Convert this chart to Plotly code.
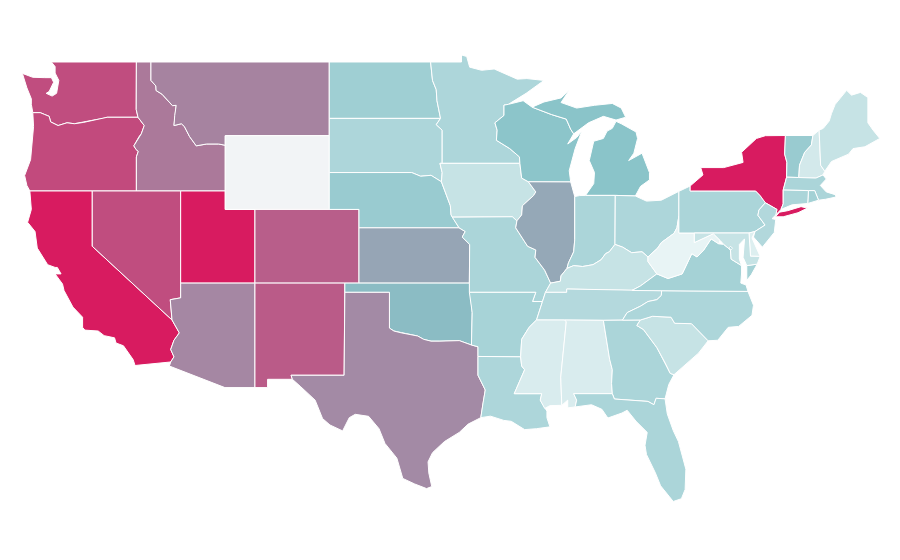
import plotly.graph_objects as go
from plotly.colors import sample_colorscale

# no topojson offline, so the state outlines are kept here as rough lon/lat rings
states = ["WA","OR","CA","ID","NV","UT","AZ","MT","WY","CO","NM","ND","SD","NE","KS","OK","TX",
          "MN","IA","MO","AR","LA","WI","IL","MI","IN","OH","KY","TN","MS","AL","GA","FL","SC","NC",
          "VA","WV","PA","NY","VT","NH","ME","MA","RI","CT","NJ","DE","MD","DC"]
values = [85,86,100,72,85,100,68,69,0,80,81,39,32,42,59,52,67,
          32,20,33,35,32,48,58,49,33,32,20,29,11,11,33,33,20,32,
          36,4,33,100,42,14,20,33,37,33,30,9,20,33]

colorscale = [[0, "#f2f4f6"], [0.01, "#eef7f8"], [0.5, "#88c3c8"], [1, "#d81b60"]]

outlines = {
"WA": [[(-122.75,49),(-117.03,49),(-117.04,46.42),(-116.92,46),(-119,46),(-119.3,45.93),(-119.9,45.85),(-120.6,45.72),(-121.2,45.65),(-121.7,45.7),(-122.3,45.55),(-122.8,45.75),(-122.9,46.05),(-123.2,46.15),(-123.5,46.25),(-124,46.25),(-124.1,46.7),(-124.1,47),(-124.4,47.6),(-124.7,48.38),(-124,48.17),(-123.2,48.15),(-122.75,48.15),(-122.6,47.9),(-122.9,47.4),(-123.1,47.3),(-122.7,47.15),(-122.4,47.3),(-122.35,47.6),(-122.25,48),(-122.5,48.4),(-122.5,48.75)]],
"OR": [[(-124,46.25),(-123.5,46.25),(-123.2,46.15),(-122.9,46.05),(-122.8,45.75),(-122.3,45.55),(-121.7,45.7),(-121.2,45.65),(-120.6,45.72),(-119.9,45.85),(-119.3,45.93),(-119,46),(-116.92,46),(-116.78,45.85),(-116.5,45.55),(-116.7,45.1),(-116.85,44.95),(-117.2,44.45),(-117.05,44.25),(-116.9,44.15),(-117.03,43.85),(-117.03,42),(-124.2,42),(-124.4,42.3),(-124.55,42.84),(-124.15,43.7),(-124.05,44.7),(-123.95,45.5)]],
"ID": [[(-117.03,49),(-116.05,49),(-116.05,48),(-115.72,47.7),(-115.7,47.45),(-115.3,47.25),(-114.95,46.93),(-114.6,46.63),(-114.35,46.65),(-114.45,46.1),(-114.5,45.55),(-114,45.65),(-113.8,45.5),(-113.45,44.95),(-113,44.45),(-112.3,44.55),(-111.5,44.55),(-111.05,44.48),(-111.05,42),(-117.03,42),(-117.03,43.85),(-116.9,44.15),(-117.05,44.25),(-117.2,44.45),(-116.85,44.95),(-116.7,45.1),(-116.5,45.55),(-116.78,45.85),(-116.92,46),(-117.04,46.42)]],
"MT": [[(-116.05,49),(-104.05,49),(-104.05,45),(-111.05,45),(-111.05,44.48),(-111.5,44.55),(-112.3,44.55),(-113,44.45),(-113.45,44.95),(-113.8,45.5),(-114,45.65),(-114.5,45.55),(-114.45,46.1),(-114.35,46.65),(-114.6,46.63),(-114.95,46.93),(-115.3,47.25),(-115.7,47.45),(-115.72,47.7),(-116.05,48)]],
"WY": [[(-111.05,45),(-104.05,45),(-104.05,41),(-111.05,41)]],
"ND": [[(-104.05,49),(-97.23,49),(-97.1,48),(-96.85,47.5),(-96.8,46.9),(-96.56,45.94),(-104.05,45.94)]],
"SD": [[(-104.05,45.94),(-96.56,45.94),(-96.85,45.6),(-96.45,45.3),(-96.45,43.5),(-96.6,43.5),(-96.45,43),(-96.5,42.5),(-97.2,42.85),(-97.9,42.8),(-98.5,43),(-104.05,43)]],
"NE": [[(-104.05,43),(-98.5,43),(-97.9,42.8),(-97.2,42.85),(-96.5,42.5),(-96.25,42),(-96.1,41.6),(-95.9,41.2),(-95.85,40.7),(-95.31,40),(-102.05,40),(-102.05,41),(-104.05,41)]],
"CO": [[(-109.05,41),(-102.05,41),(-102.05,37),(-109.05,37)]],
"KS": [[(-102.05,40),(-95.31,40),(-94.9,39.8),(-95.1,39.5),(-94.6,39.1),(-94.62,37),(-102.05,37)]],
"UT": [[(-114.05,42),(-111.05,42),(-111.05,41),(-109.05,41),(-109.05,37),(-114.05,37)]],
"NV": [[(-120,42),(-114.05,42),(-114.05,36.2),(-114.75,36.1),(-114.63,35),(-120,39)]],
"CA": [[(-124.2,42),(-120,42),(-120,39),(-114.63,35),(-114.14,34.3),(-114.5,33.9),(-114.72,33.4),(-114.5,33),(-114.72,32.72),(-117.12,32.53),(-117.25,32.85),(-117.9,33.6),(-118.4,33.75),(-118.5,34.03),(-119.2,34.15),(-119.6,34.4),(-120.5,34.45),(-120.65,34.6),(-120.65,35.15),(-121.3,35.7),(-121.9,36.6),(-122,36.95),(-122.5,37.5),(-122.1,37.5),(-122.35,37.85),(-122.5,37.85),(-123,38),(-123.7,38.9),(-123.85,39.8),(-124.35,40.3),(-124.1,41)]],
"AZ": [[(-114.05,37),(-109.05,37),(-109.05,31.33),(-111.07,31.33),(-114.81,32.5),(-114.72,32.72),(-114.5,33),(-114.72,33.4),(-114.5,33.9),(-114.14,34.3),(-114.63,35),(-114.75,36.1),(-114.05,36.2)]],
"NM": [[(-109.05,37),(-103,37),(-103.05,32),(-106.62,32),(-106.53,31.78),(-108.2,31.78),(-108.2,31.33),(-109.05,31.33)]],
"OK": [[(-103,37),(-94.62,37),(-94.43,35.4),(-94.48,33.64),(-95.3,33.88),(-96,33.85),(-96.6,33.85),(-97.2,33.85),(-97.7,33.95),(-98.1,34.13),(-99.2,34.3),(-99.7,34.4),(-100,34.56),(-100,36.5),(-103,36.5)]],
"TX": [[(-103,36.5),(-100,36.5),(-100,34.56),(-99.7,34.4),(-99.2,34.3),(-98.1,34.13),(-97.7,33.95),(-97.2,33.85),(-96.6,33.85),(-96,33.85),(-95.3,33.88),(-94.48,33.64),(-94.04,33.55),(-94.04,33.02),(-94.04,32),(-93.55,31.2),(-93.7,30.5),(-93.85,29.7),(-94.7,29.35),(-95.3,28.9),(-96.3,28.4),(-97.1,27.8),(-97.4,27.3),(-97.35,26.7),(-97.15,25.96),(-97.5,25.85),(-98.3,26.1),(-99.1,26.4),(-99.5,27.5),(-100.3,28.3),(-100.7,29.1),(-101.4,29.77),(-102.3,29.88),(-102.7,29.7),(-103.15,28.98),(-104,29.3),(-104.5,29.65),(-105,30.65),(-106,31.4),(-106.53,31.78),(-106.62,32),(-103.05,32)]],
"MN": [[(-97.23,49),(-95.15,49),(-95.15,49.38),(-94.8,49.3),(-94.6,48.72),(-93.8,48.55),(-92.95,48.62),(-92,48.3),(-91.4,48.07),(-90.75,48.1),(-89.6,48),(-90.8,47.3),(-92,46.7),(-92.29,46.66),(-92.29,46.1),(-92.9,45.7),(-92.75,45.3),(-92.8,44.75),(-91.9,44.3),(-91.25,43.85),(-91.22,43.5),(-96.45,43.5),(-96.45,45.3),(-96.85,45.6),(-96.56,45.94),(-96.8,46.9),(-96.85,47.5),(-97.1,48)]],
"IA": [[(-96.6,43.5),(-91.22,43.5),(-91.1,42.7),(-90.65,42.5),(-90.15,41.95),(-90.3,41.75),(-91.05,41.2),(-91.1,40.7),(-91.42,40.38),(-91.73,40.6),(-95.77,40.58),(-95.85,40.7),(-95.9,41.2),(-96.1,41.6),(-96.25,42),(-96.5,42.5),(-96.45,43)]],
"MO": [[(-95.77,40.58),(-91.73,40.6),(-91.42,40.38),(-91.5,40),(-90.7,39),(-90.15,38.8),(-90.2,38.4),(-89.55,37.7),(-89.15,37),(-89.5,36.5),(-89.7,36),(-90.37,36),(-90.15,36.5),(-94.62,36.5),(-94.62,37),(-94.6,39.1),(-95.1,39.5),(-94.9,39.8),(-95.31,40)]],
"AR": [[(-94.62,36.5),(-90.15,36.5),(-90.37,36),(-89.7,36),(-90.1,35),(-90.6,34.6),(-91.1,33.95),(-91.17,33),(-94.04,33.02),(-94.04,33.55),(-94.48,33.64),(-94.43,35.4)]],
"LA": [[(-94.04,33.02),(-91.17,33),(-91.1,32.5),(-90.9,32.3),(-91.6,31),(-89.75,31),(-89.85,30.65),(-89.55,30.2),(-89.4,30.05),(-89.4,29.7),(-89.2,29.2),(-90.1,29.1),(-90.9,29.05),(-91.8,29.5),(-92.3,29.55),(-93.2,29.78),(-93.85,29.7),(-93.7,30.5),(-93.55,31.2),(-94.04,32)]],
"WI": [[(-92.29,46.66),(-92,46.7),(-91,46.9),(-90.4,46.55),(-89.1,46.15),(-88.1,45.9),(-87.8,45.35),(-87.6,45.1),(-88,44.55),(-87.4,44.9),(-87.05,45.25),(-87.5,44.3),(-87.9,43.1),(-87.8,42.49),(-90.65,42.5),(-91.1,42.7),(-91.22,43.5),(-91.25,43.85),(-91.9,44.3),(-92.8,44.75),(-92.75,45.3),(-92.9,45.7),(-92.29,46.1)]],
"IL": [[(-90.65,42.5),(-87.8,42.49),(-87.53,41.7),(-87.53,39.35),(-87.6,38.7),(-87.95,38.1),(-88.05,37.8),(-88.45,37.4),(-88.5,37.1),(-89.15,37),(-89.55,37.7),(-90.2,38.4),(-90.15,38.8),(-90.7,39),(-91.5,40),(-91.42,40.38),(-91.1,40.7),(-91.05,41.2),(-90.3,41.75),(-90.15,41.95)]],
"MI": [[(-90.4,46.55),(-89.6,46.83),(-88.45,47.05),(-87.9,47.47),(-88.45,46.8),(-87.4,46.5),(-86.2,46.65),(-85,46.75),(-84.4,46.5),(-84.1,46),(-84.75,45.85),(-85.6,46.05),(-86.6,45.7),(-87.6,45.1),(-87.8,45.35),(-88.1,45.9),(-89.1,46.15)],
       [(-84.75,45.78),(-84.4,45.65),(-83.4,45.2),(-83.3,44.85),(-83.55,44.05),(-83.9,43.65),(-83,44.05),(-82.5,43),(-82.5,42.6),(-83.1,42.25),(-83.45,41.73),(-84.8,41.76),(-86.8,41.76),(-86.25,42.4),(-86.2,43),(-86.55,43.65),(-86.25,44.7),(-85.6,44.85),(-85.35,45.25),(-85,45.4)]],
"IN": [[(-87.53,41.7),(-87.2,41.75),(-86.8,41.76),(-84.8,41.76),(-84.82,39.1),(-85.2,38.7),(-85.45,38.6),(-85.75,38.27),(-86.3,38),(-87,37.9),(-87.6,37.95),(-88.05,37.8),(-87.95,38.1),(-87.6,38.7),(-87.53,39.35)]],
"OH": [[(-84.8,41.76),(-83.45,41.73),(-82.7,41.45),(-81.7,41.5),(-80.52,41.98),(-80.52,40.64),(-80.65,40),(-80.85,39.7),(-81.7,39.2),(-81.95,38.9),(-82.6,38.42),(-83,38.7),(-83.7,38.65),(-84.3,38.95),(-84.82,39.1)]],
"KY": [[(-89.15,37),(-89.5,36.5),(-88.07,36.5),(-88.07,36.68),(-83.68,36.6),(-83.1,36.85),(-82,37.5),(-82.6,38.17),(-82.6,38.42),(-83,38.7),(-83.7,38.65),(-84.3,38.95),(-84.82,39.1),(-85.2,38.7),(-85.45,38.6),(-85.75,38.27),(-86.3,38),(-87,37.9),(-87.6,37.95),(-88.05,37.8),(-88.45,37.4),(-88.5,37.1)]],
"TN": [[(-89.5,36.5),(-88.07,36.5),(-88.07,36.68),(-83.68,36.6),(-81.68,36.59),(-81.7,36.33),(-82,36.1),(-82.6,36),(-83.1,35.75),(-84,35.4),(-84.32,34.99),(-85.6,34.98),(-88.2,35),(-90.1,35),(-89.7,36)]],
"MS": [[(-90.1,35),(-88.2,35),(-88.1,34.9),(-88.47,31.9),(-88.4,30.37),(-89.2,30.35),(-89.55,30.2),(-89.85,30.65),(-89.75,31),(-91.6,31),(-90.9,32.3),(-91.1,32.5),(-91.17,33),(-91.1,33.95),(-90.6,34.6)]],
"AL": [[(-88.2,35),(-85.6,34.98),(-85.18,32.87),(-85,32.3),(-85.05,31.55),(-85,31),(-87.6,31),(-87.4,30.65),(-87.5,30.28),(-88,30.23),(-88,30.65),(-88.4,30.37),(-88.47,31.9),(-88.1,34.9)]],
"GA": [[(-85.6,34.98),(-83.11,35),(-83.35,34.7),(-82.9,34.48),(-82,33.5),(-81.4,32.6),(-81.1,32.1),(-80.85,32.03),(-81.2,31.5),(-81.45,30.72),(-82.05,30.75),(-82.2,30.4),(-82.6,30.58),(-84.86,30.71),(-85,31),(-85.05,31.55),(-85,32.3),(-85.18,32.87)]],
"FL": [[(-87.6,31),(-85,31),(-84.86,30.71),(-82.6,30.58),(-82.2,30.4),(-82.05,30.75),(-81.45,30.72),(-81.3,29.9),(-80.9,29),(-80.55,28.4),(-80.05,26.9),(-80.1,25.8),(-80.35,25.3),(-80.9,25.15),(-81.15,25.4),(-81.75,26),(-82.1,26.7),(-82.7,27.7),(-82.8,28.2),(-82.65,28.9),(-83.4,29.5),(-84,30.1),(-84.35,29.95),(-85.3,29.68),(-85.7,30.15),(-86.4,30.4),(-87.5,30.28),(-87.4,30.65)]],
"SC": [[(-83.11,35),(-82.3,35.2),(-81.05,35.15),(-80.8,34.82),(-79.67,34.8),(-78.55,33.87),(-79.2,33.2),(-79.9,32.7),(-80.85,32.03),(-81.1,32.1),(-81.4,32.6),(-82,33.5),(-82.9,34.48),(-83.35,34.7)]],
"NC": [[(-84.32,34.99),(-83.11,35),(-82.3,35.2),(-81.05,35.15),(-80.8,34.82),(-79.67,34.8),(-78.55,33.87),(-77.9,33.9),(-77.2,34.6),(-76.5,34.65),(-75.6,35.25),(-75.5,35.8),(-75.87,36.55),(-81.68,36.59),(-81.7,36.33),(-82,36.1),(-82.6,36),(-83.1,35.75),(-84,35.4)]],
"VA": [[(-83.68,36.6),(-81.68,36.59),(-75.87,36.55),(-76,36.9),(-76.35,37),(-76.3,37.55),(-76.3,37.95),(-77,38.3),(-77.05,38.8),(-77.5,39.1),(-77.83,39.13),(-78.35,39.4),(-78.87,38.77),(-79.3,38.42),(-79.65,38.6),(-80.3,37.5),(-81.25,37.25),(-82,37.5),(-83.1,36.85)],
       [(-75.25,38.03),(-75.95,37.95),(-75.95,37.15),(-75.65,37.45)]],
"WV": [[(-82.6,38.42),(-82.6,38.17),(-82,37.5),(-81.25,37.25),(-80.3,37.5),(-79.65,38.6),(-79.3,38.42),(-78.87,38.77),(-78.35,39.4),(-77.83,39.13),(-77.75,39.32),(-78.2,39.68),(-79.48,39.2),(-79.48,39.72),(-80.52,39.72),(-80.52,40.64),(-80.65,40),(-80.85,39.7),(-81.7,39.2),(-81.95,38.9)]],
"PA": [[(-80.52,41.98),(-79.76,42.27),(-79.76,42),(-75.35,42),(-75.05,41.75),(-74.7,41.36),(-75.13,40.97),(-75.2,40.68),(-74.72,40.15),(-75.4,39.8),(-75.8,39.72),(-80.52,39.72)]],
"NY": [[(-79.76,42.27),(-78.9,42.87),(-79.05,43.27),(-77.5,43.27),(-76.2,43.55),(-76.3,44.1),(-75.3,44.85),(-74.7,45),(-73.35,45.01),(-73.4,44),(-73.25,43.55),(-73.27,42.75),(-73.5,42.05),(-73.5,41.3),(-73.65,41),(-73.85,40.85),(-74,40.7),(-73.92,41),(-74.7,41.36),(-75.05,41.75),(-75.35,42),(-79.76,42)],
       [(-74.02,40.6),(-73.75,40.85),(-73.2,40.93),(-72.3,41.15),(-71.87,41.07),(-72.5,40.82),(-73.5,40.6),(-74,40.57)]],
"VT": [[(-73.35,45.01),(-71.5,45.01),(-71.6,44.5),(-72.05,44.1),(-72.4,43.4),(-72.45,42.73),(-73.27,42.75),(-73.25,43.55),(-73.4,44)]],
"NH": [[(-71.5,45.01),(-71.08,45.3),(-70.98,43.4),(-70.7,43.07),(-70.82,42.87),(-71.3,42.7),(-72.45,42.73),(-72.4,43.4),(-72.05,44.1),(-71.6,44.5)]],
"ME": [[(-71.08,45.3),(-70.8,45.4),(-70.4,45.8),(-70.25,46.2),(-70,46.7),(-69.23,47.46),(-68.9,47.2),(-68.3,47.35),(-67.8,47.07),(-67.8,45.7),(-67.45,45.3),(-67,44.85),(-68,44.4),(-68.8,44.3),(-69.1,44),(-69.8,43.75),(-70.25,43.6),(-70.7,43.07),(-70.98,43.4)]],
"MA": [[(-73.5,42.05),(-73.27,42.75),(-72.45,42.73),(-71.3,42.7),(-70.82,42.87),(-70.6,42.65),(-71,42.3),(-70.6,41.95),(-70,41.8),(-70.05,42.05),(-69.95,41.67),(-70.65,41.55),(-71.12,41.5),(-71.38,42.02),(-71.8,42.02)]],
"RI": [[(-71.8,42.02),(-71.38,42.02),(-71.12,41.5),(-71.85,41.32)]],
"CT": [[(-73.5,42.05),(-71.8,42.02),(-71.85,41.32),(-72.9,41.25),(-73.65,41),(-73.5,41.3)]],
"NJ": [[(-74.7,41.36),(-73.92,41),(-74,40.7),(-74.25,40.5),(-74,40.45),(-74.1,39.75),(-74.9,38.95),(-75.5,39.5),(-75.4,39.8),(-74.72,40.15),(-75.2,40.68),(-75.13,40.97)]],
"DE": [[(-75.8,39.72),(-75.4,39.8),(-75.6,39.45),(-75.4,39.05),(-75.05,38.45),(-75.7,38.46)]],
"MD": [[(-79.48,39.72),(-75.8,39.72),(-75.7,38.46),(-75.05,38.45),(-75.25,38.03),(-75.95,37.95),(-76.2,38.4),(-76.1,39.4),(-76.45,39.1),(-76.45,38.3),(-76.3,37.95),(-77,38.3),(-77.05,38.8),(-77.5,39.1),(-77.75,39.32),(-78.2,39.68),(-79.48,39.2)]],
"DC": [[(-77.12,38.93),(-77.04,39),(-76.91,38.89),(-77.04,38.79)]],
}

fig = go.Figure()
colors = sample_colorscale(colorscale, [v / 100 for v in values])
for st, val, col in zip(states, values, colors):
    xs, ys = [], []
    for ring in outlines[st]:
        xs += [p[0] for p in ring] + [ring[0][0], None]
        ys += [p[1] for p in ring] + [ring[0][1], None]
    fig.add_trace(go.Scatter(x=xs, y=ys, mode="lines", fill="toself", fillcolor=col,
                             line=dict(color="white", width=1), name=st,
                             text=str(val), hoverinfo="name+text", showlegend=False))

fig.update_xaxes(visible=False, range=[-125.67, -65.10])
fig.update_yaxes(visible=False, range=[21.54, 51.93])
fig.update_layout(width=900, height=560, margin=dict(l=0, r=0, t=0, b=0),
                  paper_bgcolor="white", plot_bgcolor="white")
fig.write_html("out.html")
